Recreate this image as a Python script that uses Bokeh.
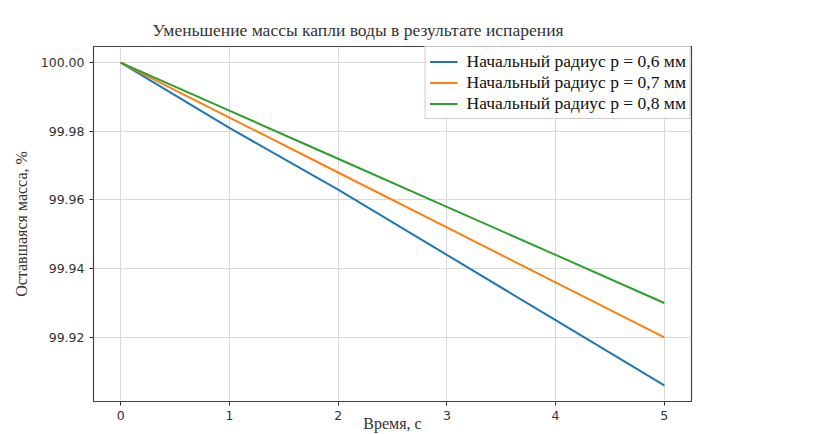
from bokeh.plotting import figure
from bokeh.embed import file_html
from bokeh.resources import INLINE
from bokeh.models import FixedTicker, PrintfTickFormatter, Range1d, Legend, LegendItem

time_s = [0, 1, 2, 3, 4, 5]
mass_06 = [100.0, 99.981, 99.963, 99.944, 99.925, 99.906]
mass_07 = [100.0, 99.984, 99.968, 99.952, 99.936, 99.920]
mass_08 = [100.0, 99.986, 99.972, 99.958, 99.944, 99.930]
labels = ["Начальный радиус р = 0,6 мм", "Начальный радиус р = 0,7 мм", "Начальный радиус р = 0,8 мм"]
colors = ["#1f77b4", "#ff7f0e", "#2ca02c"]
x_ticks = [0, 1, 2, 3, 4, 5]
y_ticks = [99.92, 99.94, 99.96, 99.98, 100.0]

p = figure(width=826, height=434, output_backend="svg", toolbar_location=None,
           x_range=Range1d(-0.25, 5.25), y_range=Range1d(99.9013, 100.0047),
           title="Уменьшение массы капли воды в результате испарения",
           min_border_left=93, min_border_right=135, min_border_top=46, min_border_bottom=31)

p.title.text_font = "Liberation Serif"
p.title.text_font_size = "17.5px"
p.title.text_font_style = "normal"
p.title.text_color = "#333333"
p.title.align = "left"
p.title.offset = 59
p.title.standoff = 14

renderers = []
for ys, c in zip([mass_06, mass_07, mass_08], colors):
    r = p.line(time_s, ys, line_color=c, line_width=2)
    renderers.append(r)

legend = Legend(items=[LegendItem(label=l, renderers=[r]) for l, r in zip(labels, renderers)],
                location="top_right")
legend.label_text_font = "Liberation Serif"
legend.label_text_font_size = "17.5px"
legend.label_text_color = "#111111"
legend.glyph_width = 28
legend.glyph_height = 21
legend.label_height = 21
legend.label_standoff = 9
legend.spacing = 0
legend.padding = 4
legend.margin = 0
legend.border_line_color = "#999999"
legend.border_line_width = 1
legend.background_fill_alpha = 0.9
p.add_layout(legend)

p.xaxis.ticker = FixedTicker(ticks=x_ticks)
p.yaxis.ticker = FixedTicker(ticks=y_ticks)
p.yaxis.formatter = PrintfTickFormatter(format="%.2f")
p.xaxis.minor_tick_line_color = None
p.yaxis.minor_tick_line_color = None
for ax in [p.xaxis, p.yaxis]:
    ax.major_label_text_font = "DejaVu Sans"
    ax.major_label_text_font_size = "12.5px"
    ax.major_label_text_color = "#333333"
    ax.major_tick_out = 4
    ax.major_tick_in = 0
    ax.major_tick_line_color = "#333333"
    ax.axis_line_color = None
    ax.axis_label_text_font = "Liberation Serif"
    ax.axis_label_text_font_size = "16px"
    ax.axis_label_text_font_style = "normal"
    ax.axis_label_text_color = "#333333"
p.xaxis.axis_label = "Время, с"
p.yaxis.axis_label = "Оставшаяся масса, %"
p.xaxis.major_label_standoff = 5
p.yaxis.major_label_standoff = 5
p.xaxis.axis_label_standoff = -8
p.yaxis.axis_label_standoff = 8

p.grid.grid_line_color = "#d9d9d9"
p.grid.grid_line_width = 1
p.outline_line_color = "#444444"
p.outline_line_width = 1.2

open("out.html", "w").write(file_html(p, INLINE))
